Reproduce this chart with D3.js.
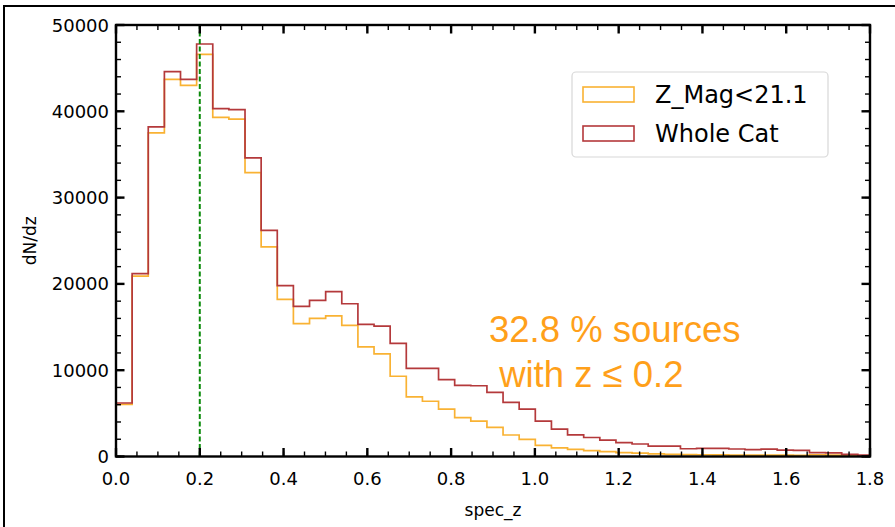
<!DOCTYPE html>
<html>
<head>
<meta charset="utf-8">
<script src="https://cdn.jsdelivr.net/npm/d3@7"></script>
<style>
  html, body { margin: 0; padding: 0; background: #fff; }
  svg { display: block; }
</style>
</head>
<body>
<script>
// ---- Data ----
const binWidth = 0.0385;   // histogram bin width in spec_z
const zMagCounts = [6050, 20900, 37500, 43700, 43000, 46600, 39300, 39100, 32900, 24300,
  18200, 15400, 16000, 16300, 15200, 12700, 11900, 9300, 6900, 6400,
  5500, 4500, 4100, 3380, 2490, 1990, 1300, 1000, 830, 670,
  560, 440, 380, 300, 250, 220, 200, 180, 170, 160,
  150, 150, 130, 200, 150, 80, 50];
const wholeCounts = [6200, 21200, 38200, 44600, 43700, 47800, 40300, 40200, 34600, 26200,
  19800, 17400, 18100, 19100, 17700, 15300, 15100, 13100, 10200, 10200,
  8900, 8250, 8200, 7440, 6280, 5500, 4100, 3170, 2500, 2200,
  1900, 1600, 1450, 1200, 1200, 900, 950, 950, 870, 800,
  850, 750, 700, 450, 420, 250, 150];
const xTicks = [0.0, 0.2, 0.4, 0.6, 0.8, 1.0, 1.2, 1.4, 1.6, 1.8];
const yTicks = [0, 10000, 20000, 30000, 40000, 50000];
const seriesNames = ["Z_Mag<21.1", "Whole Cat"];
const seriesColors = ["#F9B233", "#B4393B"];
const cutZ = 0.2;
const annotationLines = ["32.8 % sources", " with z \u2264 0.2"];

// ---- Layout ----
const W = 895, H = 527;
const m = { left: 116, right: 870, top: 25, bottom: 456.5 };

const svg = d3.select("body").append("svg").attr("width", W).attr("height", H);

// outer figure frame
svg.append("rect").attr("x", 4).attr("y", 6).attr("width", W + 20).attr("height", H + 20)
  .attr("fill", "none").attr("stroke", "#000").attr("stroke-width", 2);

const x = d3.scaleLinear().domain([0, 1.8]).range([m.left, m.right]);
const y = d3.scaleLinear().domain([0, 50000]).range([m.bottom, m.top]);

svg.append("defs").append("clipPath").attr("id", "clip")
  .append("rect").attr("x", m.left).attr("y", m.top)
  .attr("width", m.right - m.left).attr("height", m.bottom - m.top);

function stepPoints(counts) {
  const pts = [[0, 0]];
  counts.forEach((v, i) => {
    pts.push([i * binWidth, v]);
    pts.push([(i + 1) * binWidth, v]);
  });
  pts.push([counts.length * binWidth, 0]);
  return pts;
}
const line = d3.line().x(d => x(d[0])).y(d => y(d[1]));

const plot = svg.append("g").attr("clip-path", "url(#clip)");
[zMagCounts, wholeCounts].forEach((c, k) => {
  plot.append("path").attr("d", line(stepPoints(c)))
    .attr("fill", "none").attr("stroke", seriesColors[k]).attr("stroke-width", 1.7)
    .attr("stroke-linejoin", "miter");
});

// dashed vertical line at z=0.2
plot.append("line").attr("x1", x(cutZ)).attr("x2", x(cutZ))
  .attr("y1", y(0)).attr("y2", y(50000))
  .attr("stroke", "#0a8a0a").attr("stroke-width", 2).attr("stroke-dasharray", "5,2.5");

// ---- Axes (ticks inward on all four sides) ----
const font = "DejaVu Sans, sans-serif";
const xMinor = d3.range(0, 1.8001, 0.05);
const yMinor = d3.range(0, 50001, 2000);

const axG = svg.append("g");
function tickLines(vals, len, sw) {
  vals.forEach(v => {
    const px = x(v);
    axG.append("line").attr("x1", px).attr("x2", px).attr("y1", m.bottom).attr("y2", m.bottom - len)
      .attr("stroke", "#000").attr("stroke-width", sw);
    axG.append("line").attr("x1", px).attr("x2", px).attr("y1", m.top).attr("y2", m.top + len)
      .attr("stroke", "#000").attr("stroke-width", sw);
  });
}
function tickLinesY(vals, len, sw) {
  vals.forEach(v => {
    const py = y(v);
    axG.append("line").attr("x1", m.left).attr("x2", m.left + len).attr("y1", py).attr("y2", py)
      .attr("stroke", "#000").attr("stroke-width", sw);
    axG.append("line").attr("x1", m.right).attr("x2", m.right - len).attr("y1", py).attr("y2", py)
      .attr("stroke", "#000").attr("stroke-width", sw);
  });
}
tickLines(xMinor, 5, 1.4);
tickLines(xTicks, 8.5, 2.4);
tickLinesY(yMinor, 5, 1.4);
tickLinesY(yTicks, 8.5, 2.4);

axG.append("rect").attr("x", m.left).attr("y", m.top)
  .attr("width", m.right - m.left).attr("height", m.bottom - m.top)
  .attr("fill", "none").attr("stroke", "#000").attr("stroke-width", 2.4);

// tick labels
svg.append("g").selectAll("text").data(xTicks).join("text")
  .attr("x", d => x(d)).attr("y", m.bottom + 28)
  .attr("text-anchor", "middle").attr("font-family", font).attr("font-size", 18)
  .text(d => d3.format(".1f")(d));
svg.append("g").selectAll("text").data(yTicks).join("text")
  .attr("x", m.left - 7).attr("y", d => y(d) + 6.5)
  .attr("text-anchor", "end").attr("font-family", font).attr("font-size", 18)
  .text(d => String(d));

// axis titles
svg.append("text").attr("x", (m.left + m.right) / 2).attr("y", 516)
  .attr("text-anchor", "middle").attr("font-family", font).attr("font-size", 17)
  .text("spec_z");
svg.append("text").attr("transform", `translate(36,${(m.top + m.bottom) / 2}) rotate(-90)`)
  .attr("text-anchor", "middle").attr("font-family", font).attr("font-size", 17)
  .text("dN/dz");

// ---- Legend ----
const lg = svg.append("g");
lg.append("rect").attr("x", 572).attr("y", 72).attr("width", 256).attr("height", 85)
  .attr("rx", 4).attr("fill", "#fff").attr("stroke", "#d8d8d8").attr("stroke-width", 1.2);
seriesNames.forEach((name, k) => {
  const cy = 94 + k * 39;
  lg.append("rect").attr("x", 583).attr("y", cy - 7).attr("width", 51).attr("height", 15)
    .attr("fill", "none").attr("stroke", seriesColors[k]).attr("stroke-width", 1.6);
  lg.append("text").attr("x", 655).attr("y", cy + 9)
    .attr("font-family", font).attr("font-size", 24).text(name);
});

// ---- Annotation ----
annotationLines.forEach((t, i) => {
  svg.append("text").attr("x", 489).attr("y", 342 + i * 45)
    .attr("font-family", "Liberation Sans, Arial, sans-serif").attr("font-size", 36.5)
    .attr("fill", "#FFA01A").attr("xml:space", "preserve").style("white-space", "pre")
    .text(t);
});
</script>
</body>
</html>
